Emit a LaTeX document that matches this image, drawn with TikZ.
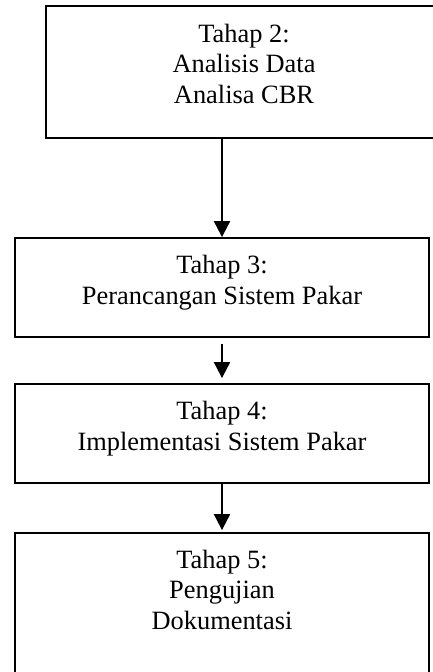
\documentclass[tikz,border=0pt]{standalone}
\usepackage{fontspec}
\setmainfont{Liberation Serif}
\usetikzlibrary{arrows.meta}
\begin{document}
\begin{tikzpicture}[x=1pt,y=1pt,
  box/.style={draw=black, line width=1.8pt, inner sep=0pt},
  txt/.style={font=\fontsize{26.4}{30.5}\selectfont, align=center, inner sep=0pt, anchor=base},
  conn/.style={line width=2pt, -{Triangle[width=16pt,length=16pt]}}]
\useasboundingbox (0,0) rectangle (433,-672);
\clip (0,0) rectangle (433,-672);
\fill[white] (0,0) rectangle (433,-672);
\node[box, minimum width=396pt, minimum height=132pt] (b1) at (244,-72) {};
\node[box, minimum width=414pt, minimum height=99pt] (b2) at (222,-287.5) {};
\node[box, minimum width=414pt, minimum height=99pt] (b3) at (222,-433.5) {};
\node[box, minimum width=414pt, minimum height=180pt] (b4) at (222,-623) {};
\node[txt] (t1) at (244,-103) {Tahap 2:\\Analisis Data\\Analisa CBR};
\node[txt] (t2) at (222,-304) {Tahap 3:\\Perancangan Sistem Pakar};
\node[txt] (t3) at (222,-450) {Tahap 4:\\Implementasi Sistem Pakar};
\node[txt] (t4) at (222,-629) {Tahap 5:\\Pengujian\\Dokumentasi};
\draw[conn] (b2.north |- b1.south) -- (b2.north);
\draw[conn, shorten <=6pt, shorten >=5pt] (b2.south) -- (b3.north);
\draw[conn, shorten >=2pt] (b3.south) -- (b4.north);
\end{tikzpicture}
\end{document}
